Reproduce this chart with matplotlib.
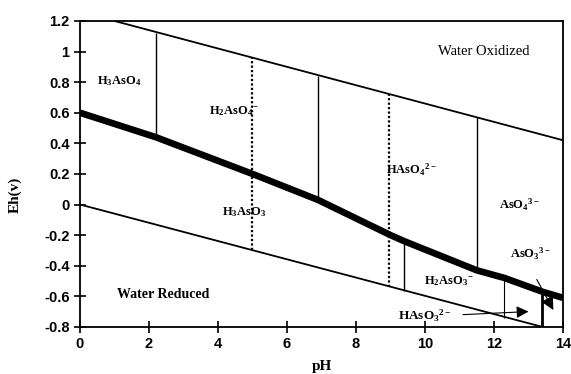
import numpy as np
import matplotlib.pyplot as plt

plt.rcParams['mathtext.fontset'] = 'custom'
plt.rcParams['mathtext.rm'] = 'Liberation Serif:bold'
plt.rcParams['mathtext.it'] = 'Liberation Serif:bold'
plt.rcParams['mathtext.bf'] = 'Liberation Serif:bold'
plt.rcParams['mathtext.default'] = 'rm'

# Eh-pH diagram for arsenic
ph_range = [0, 14]

# water stability lines (Eh in volts)
upper_water_ph = [1.0, 14.0]
upper_water_eh = [1.20, 0.42]
lower_water_ph = [0.0, 13.4]
lower_water_eh = [0.0, -0.80]

# As(V)/As(III) boundary (thick line)
redox_ph = [0.0, 2.2, 5.0, 6.9, 9.0, 9.4, 11.5, 12.3, 13.4, 14.0]
redox_eh = [0.60, 0.44, 0.20, 0.03, -0.20, -0.24, -0.43, -0.48, -0.57, -0.61]

# vertical species boundaries
solid_ph = [2.2, 6.9, 11.5]
solid_bottom = [0.44, 0.03, -0.43]
solid_top = [1.12, 0.84, 0.57]

dotted_ph = [5.0, 8.95]
dotted_bottom = [-0.30, -0.54]
dotted_top = [0.96, 0.72]

lower_ph = [9.4, 12.3, 13.4]
lower_bottom = [-0.565, -0.74, -0.80]
lower_top = [-0.24, -0.48, -0.57]

species = ['H$_3$AsO$_4$', 'H$_2$AsO$_4$$^{-}$', 'HAsO$_4$$^{2-}$', 'AsO$_4$$^{3-}$',
           'H$_3$AsO$_3$', 'H$_2$AsO$_3$$^{-}$', 'AsO$_3$$^{3-}$']
species_ph = [1.15, 4.45, 9.6, 12.75, 4.75, 10.7, 13.05]
species_eh = [0.81, 0.61, 0.23, 0.0, -0.05, -0.50, -0.32]

fig = plt.figure(figsize=(5.71, 3.74), dpi=100)
ax = fig.add_axes([0.140, 0.126, 0.846, 0.818])

serif = ['Liberation Serif', 'DejaVu Serif']
sans = ['Liberation Sans', 'DejaVu Sans']

ax.plot(upper_water_ph, upper_water_eh, color='black', lw=1.3)
ax.plot(lower_water_ph, lower_water_eh, color='black', lw=1.3)
ax.plot(redox_ph, redox_eh, color='black', lw=4.8, solid_capstyle='butt')

ax.vlines(solid_ph, solid_bottom, solid_top, colors='black', lw=1.0)
ax.vlines(dotted_ph, dotted_bottom, dotted_top, colors='black', lw=1.6,
          linestyles=(0, (1, 1)))
ax.vlines(lower_ph, lower_bottom, lower_top, colors='black', lw=[1.0, 0.8, 2.0])

for name, x, y in zip(species, species_ph, species_eh):
    ax.text(x, y, name, ha='center', va='center', fontsize=9,
            fontweight='bold', family=serif)

ax.text(11.7, 1.0, 'Water Oxidized', ha='center', va='center', fontsize=10.5,
        family=serif)
ax.text(2.4, -0.59, 'Water Reduced', ha='center', va='center', fontsize=10,
        fontweight='bold', family=serif)

# arrows to the narrow fields
ax.text(10.0, -0.73, 'HAsO$_3$$^{2-}$', ha='center', va='center', fontsize=9.5,
        fontweight='bold', family=serif)
ax.annotate('', xy=(13.0, -0.70), xytext=(11.1, -0.72),
            arrowprops=dict(arrowstyle='-|>', color='black', lw=0.8,
                            mutation_scale=18, shrinkA=0, shrinkB=0))
ax.annotate('', xy=(13.72, -0.69), xytext=(13.24, -0.49),
            arrowprops=dict(arrowstyle='-|>', color='black', lw=0.8,
                            mutation_scale=20, shrinkA=0, shrinkB=0))

ax.set_xlim(ph_range)
ax.set_ylim(-0.8, 1.2)
ax.set_xticks(np.arange(0, 15, 2))
ax.set_yticks(np.round(np.arange(-0.8, 1.21, 0.2), 1))
ax.set_yticklabels(['-0.8', '-0.6', '-0.4', '-0.2', '0', '0.2', '0.4', '0.6',
                    '0.8', '1', '1.2'])
ax.tick_params(direction='inout', length=8, width=1.2, labelsize=10.5)
for lab in ax.get_xticklabels() + ax.get_yticklabels():
    lab.set_fontweight('bold')
    lab.set_family(sans)
for s in ax.spines.values():
    s.set_linewidth(1.3)

ax.set_xlabel('pH', fontsize=11, fontweight='bold', family=serif, labelpad=6)
ax.set_ylabel('Eh(v)', fontsize=11, fontweight='bold', family=serif, labelpad=4)
ax.yaxis.set_label_coords(-0.12, 0.43)

fig.savefig('out.png', dpi=100)
